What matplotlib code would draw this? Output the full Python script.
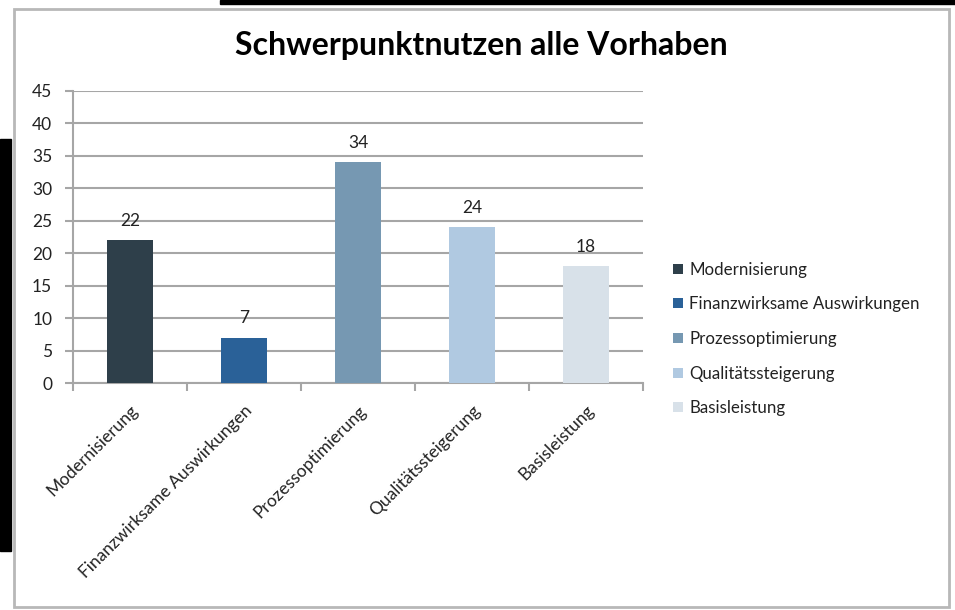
import matplotlib
matplotlib.use('Agg')
import matplotlib.pyplot as plt
from matplotlib.patches import Rectangle, Patch

# Daten
categories = ['Modernisierung', 'Finanzwirksame Auswirkungen', 'Prozessoptimierung',
              'Qualitätssteigerung', 'Basisleistung']
values = [22, 7, 34, 24, 18]
bar_colors = ['#2E3F4A', '#2A6198', '#7698B2', '#B0C9E1', '#D8E1E9']
y_ticks = [0, 5, 10, 15, 20, 25, 30, 35, 40, 45]
title = 'Schwerpunktnutzen alle Vorhaben'

plt.rcParams['font.family'] = ['Lato', 'DejaVu Sans']
text_color = '#222222'
grid_color = '#A6A6A6'

fig = plt.figure(figsize=(9.55, 6.10), dpi=100)
W, H = 955, 610

# Rahmen und Bildschirmränder
fig.patches.append(Rectangle((14 / W, 1 - 607 / H), (949 - 14) / W, (607 - 9) / H,
                             transform=fig.transFigure, fill=False,
                             edgecolor='#B8B8B8', linewidth=2, zorder=0))
fig.patches.append(Rectangle((220 / W, 1 - 4 / H), 1 - 220 / W, 4 / H,
                             transform=fig.transFigure, color='black', zorder=1))
fig.patches.append(Rectangle((0, 1 - 551 / H), 11 / W, (551 - 139) / H,
                             transform=fig.transFigure, color='black', zorder=1))

ax = fig.add_axes([73 / W, 1 - 383 / H, (643 - 73) / W, (383 - 90.7) / H])

x = range(len(categories))
bars = ax.bar(x, values, width=0.4, color=bar_colors, zorder=3)

# Werte über den Balken
for rect, v in zip(bars, values):
    ax.annotate(str(v), (rect.get_x() + rect.get_width() / 2, v),
                xytext=(0, 8), textcoords='offset points', ha='center', va='bottom',
                fontsize=12.5, color=text_color)

ax.set_xlim(-0.5, len(categories) - 0.5)
ax.set_ylim(0, 45)
ax.set_yticks(y_ticks)
ax.yaxis.grid(True, color=grid_color, linewidth=1.5, zorder=0)
ax.tick_params(axis='y', length=6, width=1.5, color=grid_color, labelsize=12.5,
               labelcolor=text_color, pad=9)

ax.set_xticks(list(x))
ax.set_xticklabels(categories, rotation=45, ha='right', rotation_mode='anchor',
                   fontsize=12.5, color=text_color)
ax.tick_params(axis='x', which='major', length=0, pad=14)
ax.set_xticks([i - 0.5 for i in range(len(categories) + 1)], minor=True)
ax.tick_params(axis='x', which='minor', length=6, width=1.5, color=grid_color)

for side in ['top', 'right']:
    ax.spines[side].set_visible(False)
for side in ['left', 'bottom']:
    ax.spines[side].set_color(grid_color)
    ax.spines[side].set_linewidth(1.5)

fig.text(481 / W, 1 - 46 / H, title, ha='center', va='center',
         fontsize=23, fontweight='bold', color='black')

handles = [Patch(facecolor=c, label=l) for c, l in zip(bar_colors, categories)]
fig.legend(handles=handles, loc='center left', bbox_to_anchor=(658 / W, 1 - 339 / H),
           frameon=False, fontsize=12.2, handlelength=0.55, handleheight=0.55,
           handletextpad=0.4, labelspacing=1.1, labelcolor=text_color)

fig.savefig('out.png', dpi=100, facecolor='white')
